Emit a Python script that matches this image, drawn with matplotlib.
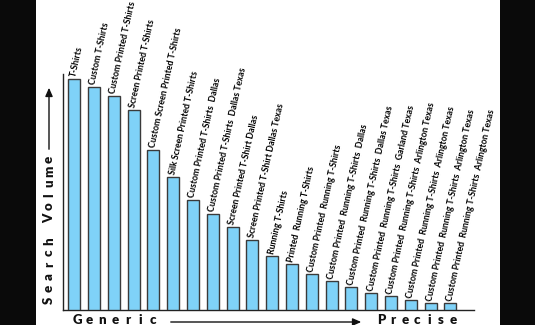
import matplotlib
matplotlib.use("Agg")
import matplotlib.pyplot as plt
from matplotlib.patches import FancyArrowPatch

# Keyword phrases, from the most generic to the most precise
keywords = [
    "T-Shirts",
    "Custom T-Shirts",
    "Custom Printed T-Shirts",
    "Screen Printed T-Shirts",
    "Custom Screen Printed T-Shirts",
    "Silk Screen Printed T-Shirts",
    "Custom Printed T-Shirts  Dallas",
    "Custom Printed T-Shirts  Dallas Texas",
    "Screen Printed T-Shirt Dallas",
    "Screen Printed T-Shirt Dallas Texas",
    "Running T-Shirts",
    "Printed  Running T-Shirts",
    "Custom Printed  Running T-Shirts",
    "Custom Printed  Running T-Shirts  Dallas",
    "Custom Printed  Running T-Shirts  Dallas Texas",
    "Custom Printed  Running T-Shirts  Garland Texas",
    "Custom Printed  Running T-Shirts  Arlington Texas",
    "Custom Printed  Running T-Shirts  Arlington Texas",
    "Custom Printed  Running T-Shirts  Arlington Texas",
    "Custom Printed  Running T-Shirts  Arlington Texas",
]

# Relative search volume for each phrase
search_volume = [231, 223, 214, 200, 160, 133, 110, 96, 83, 70,
                 54, 46, 36, 29, 23, 17, 14, 10, 7, 7]

W, H = 535, 325
fig = plt.figure(figsize=(W / 100, H / 100), dpi=100)
fig.patch.set_facecolor("#0a0a0a")

# white page between the dark side bands
page = fig.add_axes([36 / W, 0, (500 - 36) / W, 1])
page.set_axis_off()
page.add_patch(plt.Rectangle((0, 0), 1, 1, transform=page.transAxes,
                             facecolor="white", edgecolor="none"))
page.set_zorder(0)

ax_left, ax_right = 62.5, 474
ax_bottom, ax_top = 310, 74
ax = fig.add_axes([ax_left / W, (H - ax_bottom) / H,
                   (ax_right - ax_left) / W, (ax_bottom - ax_top) / H])
ax.set_facecolor("none")
ax.set_zorder(2)

x = list(range(len(keywords)))
ax.bar(x, search_volume, width=0.61, color="#7fd2f8",
       edgecolor="#3a3a3a", linewidth=1.0, zorder=3)

ax.set_xlim(-0.59, 20.19)
ax.set_ylim(0, ax_bottom - ax_top)
ax.set_xticks([])
ax.set_yticks([])
for s in ("top", "right"):
    ax.spines[s].set_visible(False)
for s in ("left", "bottom"):
    ax.spines[s].set_color("#222222")
    ax.spines[s].set_linewidth(1.0)

label_font = dict(family=["Lato", "DejaVu Sans"], weight="bold", size=6.3)
for xi, v, name in zip(x, search_volume, keywords):
    ax.annotate(name, xy=(xi, v), xytext=(2.4, 1.0), textcoords="offset points",
                rotation=77.5, rotation_mode="anchor", ha="left", va="bottom",
                color="black", annotation_clip=False, **label_font)

axis_font = dict(family=["Lato", "DejaVu Sans"], weight="heavy", size=9.5,
                 color="#111111", zorder=5)


def spaced(text, x0, y0, step, vertical=False):
    """Write text one letter at a time with wide, even spacing (pixel coords)."""
    pos = 0.0
    for ch in text:
        if ch != " ":
            if vertical:
                fig.text(x0 / W, (H - (y0 - pos)) / H, ch, rotation=90,
                         ha="center", va="center", **axis_font)
            else:
                fig.text((x0 + pos) / W, (H - y0) / H, ch,
                         ha="center", va="center", **axis_font)
        pos += step


spaced("Generic", 77, 320, 12.7)
spaced("Precise", 381, 320, 12.0)
spaced("Search Volume", 49, 300, 11.7, vertical=True)


def px(xp, yp):
    return (xp / W, 1 - yp / H)


arrow_style = dict(arrowstyle="-|>,head_length=5,head_width=2.2",
                   color="#111111", linewidth=1.0,
                   transform=fig.transFigure, mutation_scale=1, zorder=5)
fig.add_artist(FancyArrowPatch(px(168, 322), px(364, 322), **arrow_style))
fig.add_artist(FancyArrowPatch(px(49, 152), px(49, 85), **arrow_style))

fig.savefig("out.png", dpi=100, facecolor=fig.get_facecolor())
